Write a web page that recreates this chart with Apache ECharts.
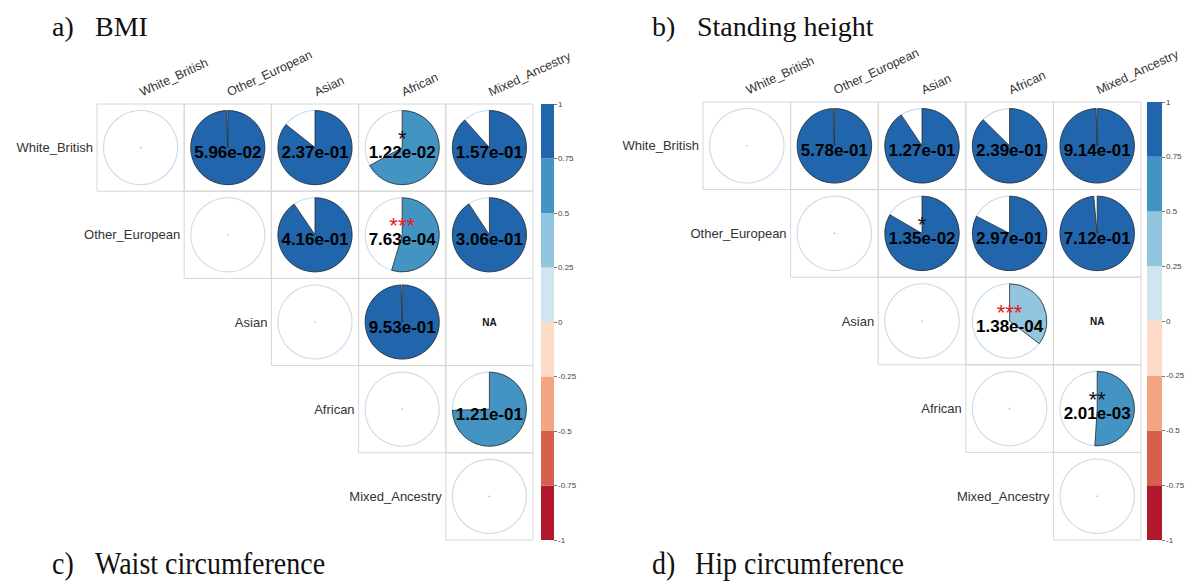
<!DOCTYPE html>
<html>
<head>
<meta charset="utf-8">
<script src="https://cdn.jsdelivr.net/npm/echarts@6/dist/echarts.min.js"></script>
<style>html,body{margin:0;padding:0;background:#fff;}#chart{width:1189px;height:582px;}</style>
</head>
<body>
<div id="chart"></div>
<script>
// ---------- data ----------
const categories = ['White_British', 'Other_European', 'Asian', 'African', 'Mixed_Ancestry'];

// a) BMI : correlation (upper triangle, diagonal drawn empty, null = NA)
const bmiCorr = [
  [0, 0.995, 0.857, 0.67, 0.884],
  [null, 0, 0.905, 0.546, 0.907],
  [null, null, 0, 0.995, null],
  [null, null, null, 0, 0.745],
  [null, null, null, null, 0]
];
const bmiP = [
  [null, 5.96e-2, 2.37e-1, 1.22e-2, 1.57e-1],
  [null, null, 4.16e-1, 7.63e-4, 3.06e-1],
  [null, null, null, 9.53e-1, null],
  [null, null, null, null, 1.21e-1],
  [null, null, null, null, null]
];

// b) Standing height
const heightCorr = [
  [0, 0.995, 0.906, 0.874, 0.995],
  [null, 0, 0.834, 0.826, 0.985],
  [null, null, 0, 0.354, null],
  [null, null, null, 0, 0.51],
  [null, null, null, null, 0]
];
const heightP = [
  [null, 5.78e-1, 1.27e-1, 2.39e-1, 9.14e-1],
  [null, null, 1.35e-2, 2.97e-1, 7.12e-1],
  [null, null, null, 1.38e-4, null],
  [null, null, null, null, 2.01e-3],
  [null, null, null, null, null]
];

// colour scale bins (from -1 to 1, step 0.25)
const binEdges = [-1, -0.75, -0.5, -0.25, 0, 0.25, 0.5, 0.75, 1];
const binColors = ['#B2182B', '#D6604D', '#F4A582', '#FDDBC7', '#D1E5F0', '#92C5DE', '#4393C3', '#2166AC'];

const panelTitles = [['a)', 'BMI'], ['b)', 'Standing height'], ['c)', 'Waist circumference'], ['d)', 'Hip circumference']];

// ---------- helpers ----------
function colorFor(r) {
  for (let i = 0; i < binColors.length; i++) {
    if (r < binEdges[i + 1]) return binColors[i];
  }
  return binColors[binColors.length - 1];
}
function fmtP(p) {
  const s = p.toExponential(2);
  const parts = s.split('e');
  const sign = parts[1][0] === '-' ? '-' : '+';
  let ex = parts[1].replace(/^[+-]/, '');
  if (ex.length < 2) ex = '0' + ex;
  return parts[0] + 'e' + sign + ex;
}
function stars(p) {
  if (p < 0.001) return '***';
  if (p < 0.01) return '**';
  if (p < 0.05) return '*';
  return '';
}
function cellData() {
  const d = [];
  for (let r = 0; r < categories.length; r++)
    for (let c = r; c < categories.length; c++) d.push([c, r]);
  return d;
}
function matrixRender(corr, pv) {
  return function (params, api) {
    const col = api.value(0), row = api.value(1);
    const pt = api.coord([col, row]);
    const sz = api.size([1, 1]);
    const w = sz[0], h = sz[1];
    const R = Math.min(w, h) * 0.425;
    const r = corr[row][col], p = pv[row][col];
    const ch = [{
      type: 'rect',
      shape: { x: pt[0] - w / 2, y: pt[1] - h / 2, width: w, height: h },
      style: { fill: 'none', stroke: '#d6d6d6', lineWidth: 1 }
    }];
    if (r === null) {
      ch.push({ type: 'text', style: { text: 'NA', x: pt[0], y: pt[1], fill: '#111', font: 'bold 10px "Liberation Sans"', align: 'center', verticalAlign: 'middle', textAlign: 'center', textVerticalAlign: 'middle' } });
      return { type: 'group', children: ch };
    }
    ch.push({ type: 'circle', shape: { cx: pt[0], cy: pt[1], r: R }, style: { fill: 'none', stroke: '#C6DCEF', lineWidth: 1.1 } });
    if (r !== 0) {
      const start = -Math.PI / 2;
      ch.push({
        type: 'sector',
        shape: { cx: pt[0], cy: pt[1], r: R, r0: 0, startAngle: start, endAngle: start + 2 * Math.PI * r, clockwise: r > 0 },
        style: { fill: colorFor(r), stroke: '#2a2a2a', lineWidth: 0.8 }
      });
    } else {
      ch.push({ type: 'circle', shape: { cx: pt[0], cy: pt[1], r: 0.7 }, style: { fill: '#aaa' } });
    }
    if (p !== null) {
      const st = stars(p);
      if (st) {
        ch.push({ type: 'text', style: { text: st, x: pt[0], y: pt[1] - 9, fill: p < 0.001 ? '#E31A1C' : '#111', font: '22px "Liberation Sans"', align: 'center', verticalAlign: 'middle', textAlign: 'center', textVerticalAlign: 'middle' } });
      }
      ch.push({ type: 'text', style: { text: fmtP(p), x: pt[0], y: pt[1] + 5, fill: '#000', font: 'bold 17px "Liberation Sans"', align: 'center', verticalAlign: 'middle', textAlign: 'center', textVerticalAlign: 'middle' } });
    }
    return { type: 'group', children: ch };
  };
}
function rowLabelRender(params, api) {
  const i = api.value(1);
  const pt = api.coord([api.value(0), i]);
  const w = api.size([1, 1])[0];
  return { type: 'text', style: { text: categories[i], x: pt[0] - w / 2 - 4, y: pt[1], fill: '#333', font: '13px "Liberation Sans"', align: 'right', verticalAlign: 'middle', textAlign: 'right', textVerticalAlign: 'middle' } };
}
function barRender(params, api) {
  const lo = api.value(1), hi = api.value(2);
  const a = api.coord([0, hi]), b = api.coord([0, lo]);
  const w = api.size([1, 0])[0];
  return { type: 'rect', shape: { x: a[0] - w / 2, y: a[1], width: w, height: b[1] - a[1] }, style: { fill: binColors[api.value(3)] } };
}
const barData = binColors.map((c, i) => [0, binEdges[i], binEdges[i + 1], i]);

// ---------- layout ----------
const mats = [
  { left: 97, top: 104, size: 436, corr: bmiCorr, p: bmiP, barLeft: 541, barW: 13 },
  { left: 703, top: 102, size: 438, corr: heightCorr, p: heightP, barLeft: 1147, barW: 15 }
];
const grid = [], xAxis = [], yAxis = [], series = [];
mats.forEach((m, k) => {
  grid.push({ left: m.left, top: m.top, width: m.size, height: m.size });
  xAxis.push({ type: 'category', gridIndex: 2 * k, data: categories, position: 'top',
    axisLine: { show: false }, axisTick: { show: false },
    axisLabel: { rotate: -25, margin: 11, color: '#333', fontSize: 12.5, fontFamily: 'Liberation Sans', interval: 0 } });
  yAxis.push({ type: 'category', gridIndex: 2 * k, data: categories, inverse: true, show: false });
  grid.push({ left: m.barLeft, top: m.top, width: m.barW, height: m.size });
  xAxis.push({ type: 'category', gridIndex: 2 * k + 1, data: ['bar'], show: false, boundaryGap: true });
  yAxis.push({ type: 'value', gridIndex: 2 * k + 1, min: -1, max: 1, interval: 0.25, position: 'right',
    splitLine: { show: false }, axisLine: { show: false },
    axisTick: { show: true, length: 3, lineStyle: { color: '#777' } },
    axisLabel: { fontSize: 8, color: '#444', margin: 4, fontFamily: 'Liberation Sans' } });
  series.push({ type: 'custom', xAxisIndex: 2 * k, yAxisIndex: 2 * k, data: cellData(), renderItem: matrixRender(m.corr, m.p), silent: true });
  series.push({ type: 'custom', xAxisIndex: 2 * k, yAxisIndex: 2 * k, data: categories.map((c, i) => [i, i]), renderItem: rowLabelRender, silent: true });
  series.push({ type: 'custom', xAxisIndex: 2 * k + 1, yAxisIndex: 2 * k + 1, data: barData, renderItem: barRender, silent: true });
});

const titlePos = [[52, 95, 26], [652, 697, 26], [52, 95, 563], [652, 695, 563]];
const graphic = [];
panelTitles.forEach((t, i) => {
  const pos = titlePos[i];
  const bottom = i >= 2;
  graphic.push({ type: 'text', x: pos[0], y: pos[2], scaleY: bottom ? 1.12 : 1, style: { text: t[0], fill: '#111', font: '28px "Liberation Serif"', verticalAlign: 'middle', textVerticalAlign: 'middle' } });
  graphic.push({ type: 'text', x: pos[1], y: pos[2], scaleY: bottom ? 1.12 : 1, style: { text: t[1], fill: '#111', font: '28px "Liberation Serif"', verticalAlign: 'middle', textVerticalAlign: 'middle' } });
});

const chart = echarts.init(document.getElementById('chart'), null, { renderer: 'svg' });
chart.setOption({ animation: false, backgroundColor: '#fff', grid, xAxis, yAxis, series, graphic });
</script>
</body>
</html>
